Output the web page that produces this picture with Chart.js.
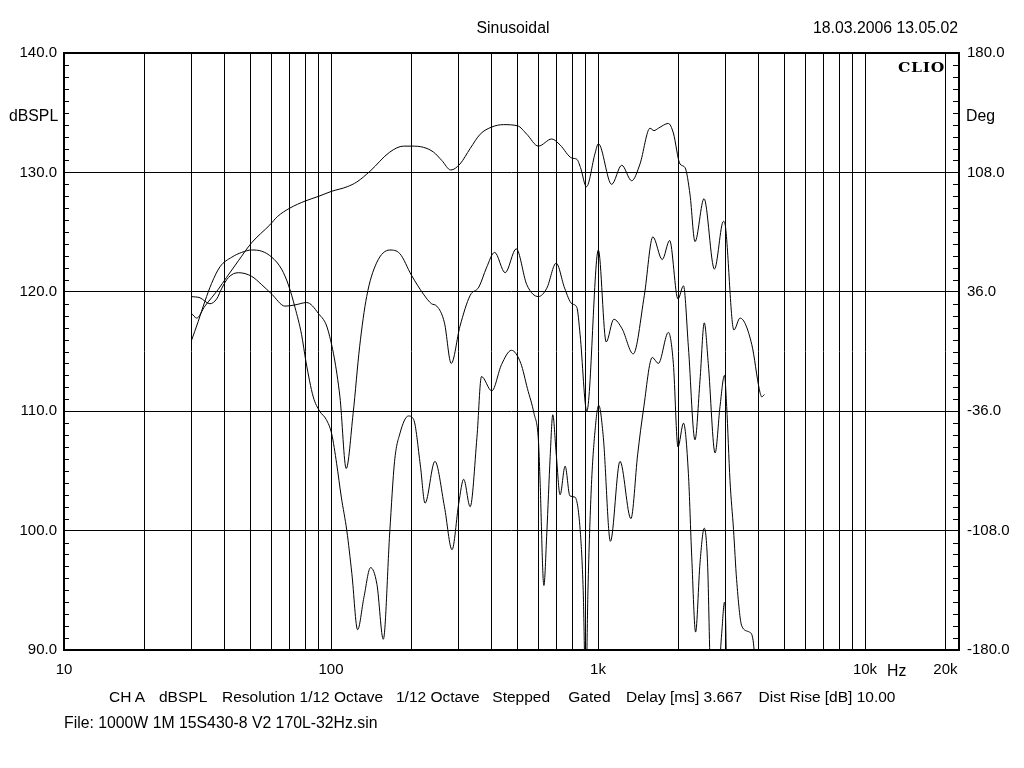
<!DOCTYPE html>
<html>
<head>
<meta charset="utf-8">
<script src="https://cdn.jsdelivr.net/npm/chart.js@4.4.1/dist/chart.umd.min.js"></script>
<style>
  body { margin: 0; background: #fff; }
  #wrap { position: relative; width: 1024px; height: 768px; overflow: hidden; }
  #plot { position: absolute; left: 0; top: 0; display: block; }
  .txt { position: absolute; font: 15.8px "Liberation Sans", Arial, sans-serif; line-height: 15.8px; white-space: pre; color: #000; }
  .foot { font-size: 15.5px; line-height: 15.5px; top: 688.6px; }
  .clio { font: bold 12px "DejaVu Serif", "Liberation Serif", serif; line-height: 12px; letter-spacing: 0.5px; transform: scaleX(1.3); transform-origin: left top; }
</style>
</head>
<body>
<div id="wrap">
  <canvas id="plot" width="1024" height="768"></canvas>
  <div class="txt" style="left:413px;width:200px;text-align:center;top:19.5px">Sinusoidal</div>
  <div class="txt" style="right:66px;top:19.5px">18.03.2006 13.05.02</div>
  <div class="txt" style="left:9px;top:107.5px">dBSPL</div>
  <div class="txt" style="left:966px;top:107.5px">Deg</div>
  <div class="txt clio" style="left:898px;top:61.5px">CLIO</div>
  <div class="txt" style="left:887px;top:662.7px">Hz</div>
  <div class="txt foot" style="left:109px">CH A</div>
  <div class="txt foot" style="left:159px">dBSPL</div>
  <div class="txt foot" style="left:222px">Resolution 1/12 Octave</div>
  <div class="txt foot" style="left:396px">1/12 Octave</div>
  <div class="txt foot" style="left:492.3px">Stepped</div>
  <div class="txt foot" style="left:568.3px">Gated</div>
  <div class="txt foot" style="left:626px">Delay [ms] 3.667</div>
  <div class="txt foot" style="left:758.5px">Dist Rise [dB] 10.00</div>
  <div class="txt" style="left:64px;top:715px">File: 1000W 1M 15S430-8 V2 170L-32Hz.sin</div>
</div>
<script>
// fundamental (SPL)
const fundFreq = [30, 31.4, 33.7, 35.7, 37.8, 40.6, 45, 50.4, 59, 63, 70, 80, 90, 100, 115, 125, 140, 166, 187, 200,
  222, 242, 260, 281, 304, 332, 362, 400, 442, 500, 541, 598, 671, 721, 798, 833, 860, 905, 975, 1003,
  1125, 1227, 1337, 1436, 1566, 1620, 1683, 1835, 1915, 2028, 2118, 2212, 2308, 2495, 2729, 2950, 3000, 3228, 3404, 3765,
  4022, 4106, 4198];
const fundSpl = [118.2, 117.8, 118.8, 119.5, 120.2, 121.2, 122.6, 124.1, 125.6, 126.3, 127.0, 127.6, 128.0, 128.4, 128.8, 129.2, 130.1, 131.7, 132.2, 132.2,
  132.1, 131.7, 131.0, 130.2, 130.7, 132.0, 133.2, 133.8, 134.0, 133.9, 133.2, 132.2, 132.8, 132.3, 131.2, 131.1, 130.4, 128.8, 131.6, 132.4,
  129.0, 130.6, 129.3, 130.7, 133.7, 133.5, 133.7, 134.1, 133.3, 130.7, 130.4, 128.1, 124.2, 127.8, 121.9, 125.9, 125.5, 116.8, 117.8, 115.6,
  111.8, 111.2, 111.4];

// 2nd harmonic (+10 dB)
const h2Freq = [30, 32.3, 35.2, 37.3, 39, 41.3, 45, 50.4, 55, 60, 67.3, 73.3, 81.1, 89.6, 97.7, 108, 114, 121, 128, 136,
  148, 166, 181, 200, 222, 238, 249, 266, 282, 304, 332, 358, 382, 410, 449, 494, 541, 598, 643, 697,
  750, 798, 833, 857, 908, 1003, 1073, 1146, 1231, 1355, 1491, 1605, 1740, 1855, 1993, 2090, 2180, 2308, 2410, 2500,
  2588, 2745, 2864, 2976, 3033, 3121, 3217, 3304, 3456, 3690, 3810, 3900];
const h2Spl = [119.6, 119.5, 119.0, 119.4, 120.3, 121.2, 121.6, 121.3, 120.6, 119.8, 118.8, 118.9, 119.1, 118.2, 116.7, 111.2, 105.2, 109.8, 115.4, 119.6,
  122.4, 123.5, 123.2, 121.4, 119.8, 119.0, 118.8, 117.4, 114.0, 117.1, 119.7, 120.4, 122.0, 123.3, 121.6, 123.6, 120.6, 119.6, 120.3, 122.4,
  120.3, 119.0, 118.7, 116.4, 110.0, 123.5, 115.8, 117.7, 116.9, 114.8, 119.7, 124.6, 122.7, 124.3, 119.4, 120.5, 115.4, 107.6, 112.6, 117.4,
  114.0, 106.5, 110.4, 113.0, 110.4, 104.2, 100.1, 95.9, 92.0, 91.5, 90.8, 88.0];

// 3rd harmonic (+10 dB)
const h3Freq = [30, 31.8, 33.7, 35.7, 38.4, 42.5, 46.3, 50.4, 55, 60, 65.3, 69.2, 73.3, 77.6, 80.5, 85.8, 90.7, 96, 100.6, 105,
  109.3, 114.6, 119.7, 125.8, 132.8, 140.6, 148.6, 157, 166, 173, 181, 195, 204, 216, 225, 245, 266, 284, 301, 314,
  332, 352, 366, 400, 435, 474, 514, 544, 576, 598, 606, 627, 643, 662, 677, 697, 721, 753, 785, 820,
  857, 880, 900, 917, 943, 975, 1006, 1047, 1113, 1209, 1328, 1408, 1479, 1597, 1683, 1835, 1915, 1993, 2090, 2180,
  2244, 2320, 2410, 2500, 2572, 2640, 2780, 2906, 2976, 3000, 3040];
const h3Spl = [115.9, 117.5, 119.2, 120.7, 122.1, 122.9, 123.3, 123.5, 123.4, 122.9, 121.9, 120.6, 118.7, 116.4, 114.2, 111.2, 110.0, 109.3, 108.1, 105.6,
  102.8, 100.0, 96.4, 91.7, 94.4, 96.9, 95.5, 90.9, 99.9, 105.8, 108.1, 109.6, 109.3, 105.5, 102.3, 105.8, 102.0, 98.4, 102.3, 104.3,
  102.0, 107.8, 112.9, 111.7, 113.9, 115.1, 114.0, 111.9, 109.8, 107.6, 104.5, 95.4, 99.8, 106.2, 109.7, 106.5, 103.0, 105.4, 102.9, 102.8,
  100.1, 95.0, 86.0, 95.0, 103.4, 108.4, 110.5, 107.8, 99.1, 105.8, 101.0, 106.4, 110.1, 114.5, 114.0, 116.6, 114.0, 107.0, 109.0, 104.8,
  97.8, 91.5, 97.3, 100.2, 97.3, 88.0, 86.0, 91.4, 94.0, 93.2, 86.0];

// axes
const freqGrid = [10, 20, 30, 40, 50, 60, 70, 80, 90, 100, 200, 300, 400, 500, 600, 700, 800, 900,
  1000, 2000, 3000, 4000, 5000, 6000, 7000, 8000, 9000, 10000, 20000];
const labelFreqs = [10, 100, 1000, 10000, 20000];
const labelTexts = ['10', '100', '1k', '10k', '20k'];
const splTicks = [90, 100, 110, 120, 130, 140];
const degTicks = [-180, -108, -36, 36, 108, 180];

const font = { family: '"Liberation Sans", Arial, sans-serif', size: 15 };

function pts(xs, ys) {
  return xs.map((f, i) => ({ x: f, y: ys[i] }));
}

// minor ticks every 1 dB (inside the frame) and the heavy frame
const frame = {
  id: 'frame',
  afterDraw(chart) {
    const { ctx, chartArea: a } = chart;
    const y = chart.scales.y;
    ctx.save();
    ctx.strokeStyle = '#000';
    ctx.lineWidth = 1;
    ctx.beginPath();
    for (let v = y.min + 1; v < y.max; v++) {
      if (v % 10 === 0) continue;
      const py = Math.round(y.getPixelForValue(v)) + 0.5;
      ctx.moveTo(a.left, py);
      ctx.lineTo(a.left + 5, py);
      ctx.moveTo(a.right - 6, py);
      ctx.lineTo(a.right, py);
    }
    ctx.stroke();
    ctx.lineWidth = 2;
    ctx.strokeRect(a.left, a.top, a.right - a.left, a.bottom - a.top);
    ctx.restore();
  }
};

const lineStyle = {
  borderColor: '#000',
  borderWidth: 1,
  pointRadius: 0,
  fill: false,
  cubicInterpolationMode: 'monotone'
};

new Chart(document.getElementById('plot'), {
  type: 'line',
  data: {
    datasets: [
      { label: 'Fundamental', data: pts(fundFreq, fundSpl), ...lineStyle },
      { label: '2nd harmonic', data: pts(h2Freq, h2Spl), ...lineStyle },
      { label: '3rd harmonic', data: pts(h3Freq, h3Spl), ...lineStyle }
    ]
  },
  options: {
    responsive: false,
    animation: false,
    devicePixelRatio: 1,
    layout: { padding: { top: 53, left: 0, right: 0, bottom: 0 } },
    plugins: { legend: { display: false }, tooltip: { enabled: false } },
    scales: {
      x: {
        type: 'logarithmic',
        min: 10,
        max: 22490,
        afterBuildTicks: (s) => { s.ticks = freqGrid.map(v => ({ value: v })); },
        afterFit: (s) => { s.height = 118; },
        grid: { color: '#000', lineWidth: 1, drawTicks: false },
        border: { display: false },
        ticks: {
          autoSkip: false,
          maxRotation: 0,
          padding: 11,
          color: '#000',
          font,
          callback: (v) => {
            const i = labelFreqs.indexOf(v);
            return i < 0 ? '' : labelTexts[i];
          }
        }
      },
      y: {
        position: 'left',
        min: 90,
        max: 140,
        afterBuildTicks: (s) => { s.ticks = splTicks.map(v => ({ value: v })); },
        afterFit: (s) => { s.width = 64; },
        grid: { color: '#000', lineWidth: 1, drawTicks: false },
        border: { display: false },
        ticks: { padding: 7, color: '#000', font, callback: (v) => v.toFixed(1) }
      },
      y1: {
        position: 'right',
        min: -180,
        max: 180,
        afterBuildTicks: (s) => { s.ticks = degTicks.map(v => ({ value: v })); },
        afterFit: (s) => { s.width = 65; },
        grid: { display: false, drawTicks: false },
        border: { display: false },
        ticks: { padding: 8, color: '#000', font, callback: (v) => v.toFixed(1) }
      }
    }
  },
  plugins: [frame]
});
</script>
</body>
</html>
